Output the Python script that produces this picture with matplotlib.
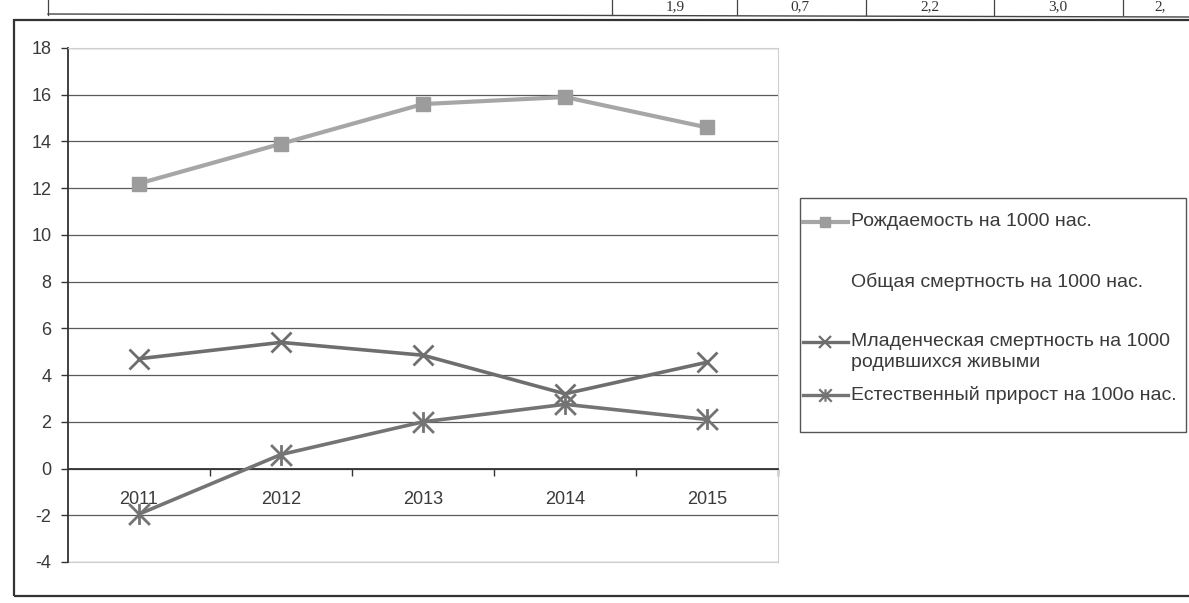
#!/usr/bin/env python3
"""Excel-style line chart of birth / mortality rates, 2011-2015 (scanned look)."""

import matplotlib
matplotlib.use("Agg")
import matplotlib.pyplot as plt
from matplotlib.lines import Line2D
from matplotlib.patches import Rectangle
from matplotlib.path import Path
from matplotlib import rcParams

rcParams.update({
    "font.family": ["Liberation Sans", "DejaVu Sans"],
    "font.size": 10,
    "axes.unicode_minus": False,
})

YEARS = ["2011", "2012", "2013", "2014", "2015"]
BIRTH_RATE = [12.2, 13.9, 15.6, 15.9, 14.6]
INFANT_MORTALITY = [4.7, 5.4, 4.85, 3.2, 4.55]
NATURAL_INCREASE = [-1.95, 0.6, 2.0, 2.75, 2.1]

LABELS = [
    "Рождаемость на 1000 нас.",
    "Общая смертность на 1000 нас.",
    "Младенческая смертность на 1000\nродившихся живыми",
    "Естественный прирост на 100о нас.",
]

# fragment of the table row cut off at the top of the scan
TABLE_CELLS = ["1,9", "0,7", "2,2", "3,0", "2,"]

# Excel "star" marker: an X with a vertical bar
STAR = Path(
    [(-1, -1), (1, 1), (-1, 1), (1, -1), (0, -1), (0, 1)],
    [Path.MOVETO, Path.LINETO, Path.MOVETO, Path.LINETO, Path.MOVETO, Path.LINETO],
)

C_BIRTH = "#a6a6a6"
C_INFANT = "#6e6e6e"
C_NATURAL = "#747474"
C_TEXT = "#3a3a3a"

W, H = 1189, 603


def px(x, y):
    """pixel position -> figure fraction"""
    return x / W, 1 - y / H


def main() -> None:
    fig = plt.figure(figsize=(W / 100, H / 100), dpi=100)

    # outer chart frame
    fig.patches.append(Rectangle(px(14, 596), (1200 - 14) / W, (596 - 20) / H,
                                 transform=fig.transFigure, fill=False,
                                 edgecolor="#333333", linewidth=1.6))

    # table row above the chart
    fig.add_artist(Line2D([48 / W, 1], [1 - 14 / H, 1 - 17 / H],
                          transform=fig.transFigure, color="#444444", lw=1.0))
    for xl in [48, 612, 737, 866, 994, 1123]:
        fig.add_artist(Line2D([xl / W, xl / W], [1 - 15 / H, 1.0],
                              transform=fig.transFigure, color="#444444", lw=0.9))
    for xc, txt in zip([675, 800, 930, 1058, 1160], TABLE_CELLS):
        fig.text(xc / W, 1 - 7 / H, txt, ha="center", va="center",
                 fontsize=11, family="Liberation Serif", color="#333333")

    x0, y0 = px(68, 562)
    x1, y1 = px(778, 48)
    ax = fig.add_axes([x0, y0, x1 - x0, y1 - y0])
    xs = list(range(len(YEARS)))

    ax.set_xlim(-0.5, len(YEARS) - 0.5)
    ax.set_ylim(-4, 18)
    ax.set_yticks(range(-4, 19, 2))
    ax.grid(axis="y", color="#5a5a5a", linewidth=0.9)
    ax.set_axisbelow(True)

    for side in ("top", "right"):
        ax.spines[side].set_color("#cfcfcf")
        ax.spines[side].set_linewidth(0.8)
    ax.spines["left"].set_color("#333333")
    ax.spines["left"].set_linewidth(1.3)
    ax.spines["bottom"].set_position(("data", 0))
    ax.spines["bottom"].set_color("#333333")
    ax.spines["bottom"].set_linewidth(1.3)

    ax.tick_params(axis="y", direction="out", length=5, width=1, color="#333333",
                   labelsize=13, labelcolor=C_TEXT, pad=7)
    ax.set_xticks([i + 0.5 for i in xs])
    ax.set_xticklabels([])
    ax.set_xticks(xs, minor=True)
    ax.set_xticklabels(YEARS, minor=True)
    ax.tick_params(axis="x", which="major", direction="out", length=5, width=1,
                   color="#333333")
    ax.tick_params(axis="x", which="minor", length=0, pad=16, labelsize=13,
                   labelcolor=C_TEXT)
    # bottom border of the plot area
    ax.axhline(-4, color="#cfcfcf", linewidth=0.8, clip_on=False)

    ax.plot(xs, BIRTH_RATE, color=C_BIRTH, lw=3, marker="s", ms=10,
            mfc="#9c9c9c", mec="#9c9c9c", zorder=3)
    ax.plot(xs, INFANT_MORTALITY, color=C_INFANT, lw=2.6, marker="x", ms=15,
            mew=2, zorder=3)
    ax.plot(xs, NATURAL_INCREASE, color=C_NATURAL, lw=2.6, marker=STAR, ms=15,
            mew=2, zorder=3)

    # legend box (Excel-like spacing)
    fig.patches.append(Rectangle(px(800, 432), (1186 - 800) / W, (432 - 198) / H,
                                 transform=fig.transFigure, fill=False,
                                 edgecolor="#555555", linewidth=1.0))
    styles = [
        dict(color=C_BIRTH, lw=3, marker="s", ms=7, mfc="#9c9c9c", mec="#9c9c9c"),
        None,
        dict(color=C_INFANT, lw=2.4, marker="x", ms=9, mew=1.6),
        dict(color=C_NATURAL, lw=2.4, marker=STAR, ms=9, mew=1.6),
    ]
    rows_y = [222, 282, 352, 395]
    for yy, lab, st in zip(rows_y, LABELS, styles):
        fy = 1 - yy / H
        hy = fy + (10 / H if "\n" in lab else 0)
        if st is not None:
            fig.add_artist(Line2D([803 / W, 825 / W, 848 / W], [hy] * 3,
                                  transform=fig.transFigure, markevery=[1], **st))
        fig.text(851 / W, fy, lab, ha="left", va="center", fontsize=14,
                 color=C_TEXT, linespacing=1.3)

    fig.savefig("out.png", dpi=100, facecolor="white")
    plt.close(fig)


if __name__ == "__main__":
    main()
